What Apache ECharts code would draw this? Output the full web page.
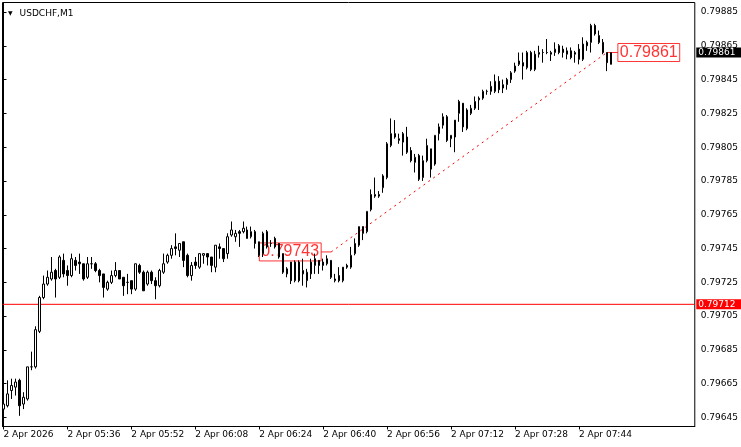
<!DOCTYPE html>
<html>
<head>
<meta charset="utf-8">
<script src="https://cdn.jsdelivr.net/npm/echarts@6/dist/echarts.min.js"></script>
<style>html,body{margin:0;padding:0;background:#fff}#c{width:741px;height:447px}</style>
</head>
<body>
<div id="c"></div>
<script>
const symbolName = 'USDCHF,M1';
// candle index 0 = 2 Apr 05:20, one candle per minute
const openP = [0.79650,0.79652,0.79661,0.79663,0.79667,0.79653,0.79656,0.79675,0.79675,0.79696,
0.79716,0.79724,0.79727,0.79732,0.79728,0.79738,0.79732,0.79729,0.79738,0.79737,
0.79736,0.79728,0.79736,0.79736,0.79732,0.79730,0.79721,0.79725,0.79729,0.79732,
0.79728,0.79725,0.79726,0.79721,0.79735,0.79731,0.79724,0.79731,0.79726,0.79723,
0.79731,0.79737,0.79741,0.79746,0.79744,0.79749,0.79741,0.79729,0.79737,0.79734,
0.79741,0.79742,0.79740,0.79734,0.79746,0.79745,0.79742,0.79753,0.79752,0.79755,
0.79755,0.79756,0.79752,0.79755,0.79749,0.79742,0.79755,0.79748,0.79751,0.79748,
0.79742,0.79730,0.79737,0.79726,0.79737,0.79730,0.79726,0.79730,0.79735,0.79738,
0.79735,0.79736,0.79738,0.79726,0.79729,0.79726,0.79735,0.79734,0.79742,0.79747,
0.79758,0.79755,0.79768,0.79776,0.79776,0.79781,0.79787,0.79806,0.79813,0.79809,
0.79808,0.79811,0.79803,0.79796,0.79800,0.79787,0.79797,0.79804,0.79795,0.79813,
0.79818,0.79823,0.79810,0.79811,0.79825,0.79831,0.79816,0.79825,0.79828,0.79833,
0.79834,0.79838,0.79838,0.79838,0.79844,0.79840,0.79842,0.79845,0.79850,0.79854,
0.79855,0.79852,0.79861,0.79851,0.79860,0.79861,0.79861,0.79860,0.79861,0.79865,
0.79863,0.79860,0.79862,0.79860,0.79863,0.79857,0.79867,0.79867,0.79877,0.79871,
0.79867,0.79861,0.79854];
const closeP = [0.79653,0.79659,0.79664,0.79666,0.79652,0.79657,0.79675,0.79675,0.79697,0.79716,
0.79724,0.79728,0.79731,0.79727,0.79740,0.79730,0.79729,0.79739,0.79735,0.79736,
0.79727,0.79736,0.79736,0.79732,0.79729,0.79722,0.79725,0.79729,0.79732,0.79727,
0.79723,0.79725,0.79721,0.79736,0.79731,0.79720,0.79731,0.79726,0.79723,0.79732,
0.79736,0.79741,0.79745,0.79745,0.79748,0.79738,0.79729,0.79735,0.79735,0.79742,
0.79742,0.79740,0.79735,0.79747,0.79745,0.79739,0.79752,0.79756,0.79754,0.79754,
0.79757,0.79751,0.79755,0.79748,0.79741,0.79754,0.79746,0.79748,0.79746,0.79740,
0.79731,0.79733,0.79726,0.79737,0.79726,0.79732,0.79731,0.79737,0.79739,0.79735,
0.79737,0.79739,0.79728,0.79727,0.79726,0.79734,0.79734,0.79741,0.79748,0.79758,
0.79754,0.79767,0.79777,0.79777,0.79777,0.79788,0.79807,0.79813,0.79811,0.79810,
0.79813,0.79802,0.79797,0.79799,0.79786,0.79797,0.79806,0.79792,0.79812,0.79817,
0.79823,0.79809,0.79812,0.79821,0.79832,0.79817,0.79827,0.79828,0.79832,0.79834,
0.79838,0.79838,0.79841,0.79844,0.79839,0.79842,0.79845,0.79849,0.79853,0.79856,
0.79853,0.79861,0.79851,0.79860,0.79861,0.79861,0.79861,0.79861,0.79863,0.79861,
0.79861,0.79862,0.79858,0.79861,0.79857,0.79866,0.79865,0.79877,0.79872,0.79867,
0.79861,0.79855,0.79861];
const highP = [0.79656,0.79667,0.79668,0.79668,0.79668,0.79660,0.79675,0.79684,0.79699,0.79717,
0.79729,0.79732,0.79740,0.79733,0.79741,0.79742,0.79735,0.79742,0.79740,0.79742,
0.79736,0.79740,0.79740,0.79737,0.79733,0.79730,0.79726,0.79732,0.79737,0.79732,
0.79728,0.79730,0.79726,0.79736,0.79736,0.79732,0.79732,0.79732,0.79728,0.79733,
0.79742,0.79742,0.79747,0.79754,0.79748,0.79749,0.79742,0.79737,0.79740,0.79742,
0.79742,0.79742,0.79740,0.79747,0.79748,0.79745,0.79754,0.79761,0.79756,0.79756,
0.79761,0.79758,0.79758,0.79756,0.79749,0.79755,0.79756,0.79750,0.79752,0.79748,
0.79742,0.79734,0.79737,0.79738,0.79738,0.79739,0.79733,0.79739,0.79742,0.79738,
0.79739,0.79741,0.79738,0.79730,0.79734,0.79734,0.79736,0.79746,0.79751,0.79758,
0.79758,0.79767,0.79780,0.79787,0.79779,0.79789,0.79808,0.79822,0.79821,0.79813,
0.79814,0.79817,0.79805,0.79801,0.79801,0.79800,0.79810,0.79804,0.79812,0.79819,
0.79825,0.79824,0.79812,0.79821,0.79833,0.79831,0.79828,0.79830,0.79835,0.79835,
0.79839,0.79839,0.79844,0.79848,0.79847,0.79845,0.79846,0.79850,0.79855,0.79861,
0.79861,0.79862,0.79862,0.79862,0.79865,0.79863,0.79869,0.79862,0.79867,0.79866,
0.79865,0.79864,0.79864,0.79862,0.79866,0.79870,0.79868,0.79878,0.79878,0.79874,
0.79869,0.79861,0.79861];
const lowP = [0.79646,0.79651,0.79656,0.79658,0.79646,0.79650,0.79655,0.79673,0.79674,0.79695,
0.79715,0.79723,0.79726,0.79716,0.79727,0.79728,0.79723,0.79728,0.79732,0.79730,
0.79726,0.79727,0.79733,0.79731,0.79725,0.79716,0.79720,0.79724,0.79728,0.79727,
0.79717,0.79718,0.79718,0.79720,0.79730,0.79720,0.79723,0.79724,0.79715,0.79722,
0.79730,0.79736,0.79739,0.79741,0.79740,0.79734,0.79728,0.79726,0.79733,0.79733,
0.79736,0.79735,0.79731,0.79731,0.79739,0.79737,0.79739,0.79752,0.79749,0.79746,
0.79754,0.79751,0.79751,0.79745,0.79740,0.79740,0.79745,0.79746,0.79745,0.79739,
0.79730,0.79728,0.79724,0.79725,0.79725,0.79723,0.79722,0.79727,0.79730,0.79730,
0.79732,0.79735,0.79727,0.79725,0.79725,0.79725,0.79733,0.79733,0.79741,0.79746,
0.79750,0.79754,0.79767,0.79775,0.79775,0.79778,0.79786,0.79805,0.79810,0.79807,
0.79800,0.79801,0.79796,0.79790,0.79785,0.79785,0.79796,0.79787,0.79794,0.79809,
0.79816,0.79808,0.79805,0.79802,0.79820,0.79814,0.79815,0.79824,0.79827,0.79827,
0.79833,0.79836,0.79836,0.79837,0.79837,0.79837,0.79839,0.79843,0.79849,0.79853,
0.79845,0.79851,0.79850,0.79850,0.79858,0.79855,0.79860,0.79856,0.79859,0.79860,
0.79858,0.79857,0.79857,0.79855,0.79854,0.79856,0.79862,0.79861,0.79871,0.79866,
0.79860,0.79850,0.79854];
const xTickIndex = [0,16,32,48,64,80,96,112,128,144];
const xTickLabels = ['2 Apr 2026','2 Apr 05:36','2 Apr 05:52','2 Apr 06:08','2 Apr 06:24','2 Apr 06:40','2 Apr 06:56','2 Apr 07:12','2 Apr 07:28','2 Apr 07:44'];
const yTicks = [0.79645,0.79665,0.79685,0.79705,0.79725,0.79745,0.79765,0.79785,0.79805,0.79825,0.79845,0.79865,0.79885];
const levelPrice = 0.79712;
const bidPrice = 0.79861;
const trendStart = [82, 0.79743];
const trendEnd = [151, 0.79861];

const FONT = 'DejaVu Sans';
const candles = openP.map((o, i) => [i, o, closeP[i], lowP[i], highP[i]]);

const chart = echarts.init(document.getElementById('c'), null, {renderer: 'canvas'});
chart.setOption({
  animation: false,
  backgroundColor: '#fff',
  title: {
    left: 3, top: 4,
    text: '{t|▼}{s|' + symbolName + '}',
    textStyle: {
      fontWeight: 'normal',
      rich: {
        t: {fontSize: 6, fontFamily: FONT, fontWeight: 'normal', color: '#000', padding: [0, 7, 0, 0]},
        s: {fontSize: 9, fontFamily: FONT, fontWeight: 'normal', color: '#000'}
      }
    }
  },
  grid: {left: 2.5, top: 2.5, right: 45.5, bottom: 20.5, show: true, borderColor: '#000', borderWidth: 1, backgroundColor: '#fff'},
  xAxis: {
    type: 'value', min: -0.25, max: 173,
    axisLine: {show: true, lineStyle: {color: '#000', width: 1}},
    axisTick: {show: true, length: 3, customValues: xTickIndex, lineStyle: {color: '#000'}},
    axisLabel: {
      customValues: xTickIndex,
      formatter: v => xTickLabels[xTickIndex.indexOf(v)],
      align: 'left', margin: 4, fontFamily: FONT, fontSize: 9, color: '#000'
    },
    splitLine: {show: false}
  },
  yAxis: {
    type: 'value', position: 'right', min: 0.796397, max: 0.798906, scale: true,
    axisLine: {show: true, lineStyle: {color: '#000', width: 1}},
    axisTick: {show: true, length: 3, customValues: yTicks, lineStyle: {color: '#000'}},
    axisLabel: {
      customValues: yTicks,
      formatter: v => Number(v).toFixed(5),
      margin: 6, fontFamily: FONT, fontSize: 9, color: '#000'
    },
    splitLine: {show: false}
  },
  series: [
    {
      type: 'line', z: 1, silent: true,
      data: [trendStart, trendEnd],
      showSymbol: false, symbol: 'none',
      lineStyle: {color: '#ff0000', width: 1, type: [2, 4]}
    },
    {
      type: 'scatter', z: 1, silent: true,
      symbol: 'rect',
      data: [
        {value: trendStart, symbolSize: [10, 1], symbolOffset: [-5, 0], label: {position: 'left'}},
        {value: trendEnd, symbolSize: [11, 1], symbolOffset: [5.5, 0], label: {position: 'right'}}
      ],
      itemStyle: {color: '#ff0000'},
      label: {
        show: true, distance: 0,
        formatter: p => Number(p.value[1]).toFixed(5),
        color: '#ff0000', fontFamily: 'Liberation Sans', fontSize: 16, lineHeight: 17,
        borderColor: '#ff0000', borderWidth: 1, padding: [1, 2, 0, 2]
      }
    },
    {
      type: 'line', z: 2, silent: true,
      data: [[-0.25, levelPrice], [173, levelPrice]],
      showSymbol: false, symbol: 'none',
      lineStyle: {color: '#ff0000', width: 1, type: 'solid'},
      endLabel: {
        show: true, distance: 1.5, formatter: () => levelPrice.toFixed(5),
        backgroundColor: '#ff0000', color: '#fff', fontFamily: FONT, fontSize: 9, padding: [1, 6, 0, 2]
      }
    },
    {
      type: 'line', z: 4, silent: true,
      data: [[-0.25, bidPrice], [173, bidPrice]],
      showSymbol: false, symbol: 'none',
      lineStyle: {opacity: 0, width: 0},
      endLabel: {
        show: true, distance: 1.5, formatter: () => bidPrice.toFixed(5),
        backgroundColor: '#000', color: '#fff', fontFamily: FONT, fontSize: 9, padding: [1, 6, 0, 2]
      }
    },
    {
      type: 'candlestick', z: 3,
      data: candles,
      barWidth: 2,
      itemStyle: {color: '#ffffff', color0: '#000000', borderColor: '#000000', borderColor0: '#000000', borderWidth: 1}
    }
  ]
});
</script>
</body>
</html>
